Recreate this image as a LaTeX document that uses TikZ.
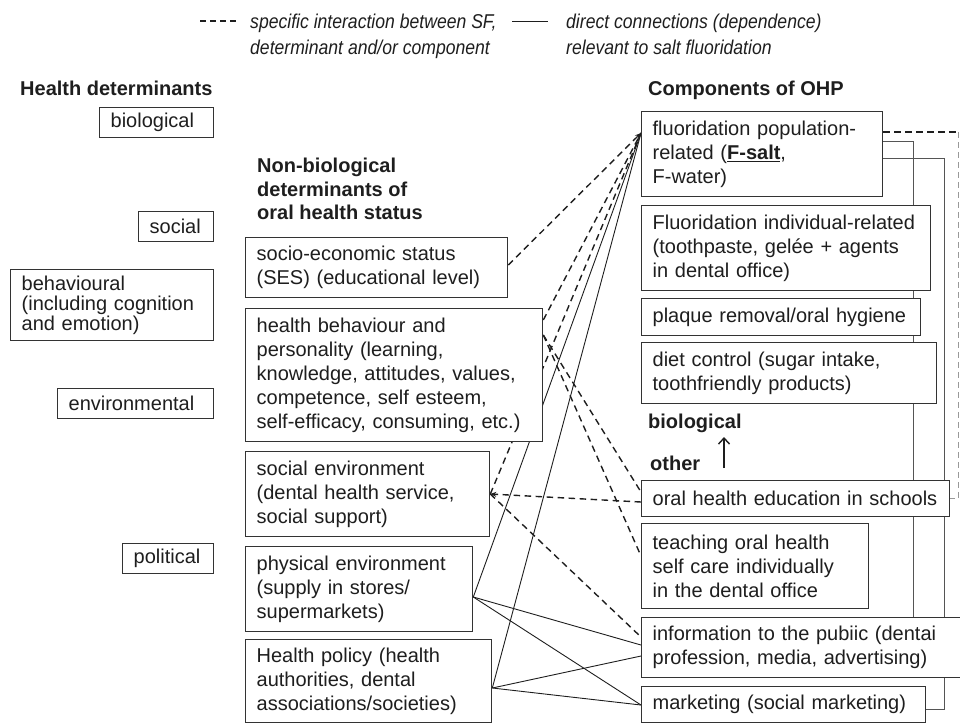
\documentclass[tikz,border=0pt]{standalone}
\usepackage{fontspec}
\setmainfont{Liberation Sans}
\newfontfamily\legendfont{Liberation Sans Italic}[FakeStretch=0.88]
\usetikzlibrary{arrows.meta}
\pgfdeclarelayer{background}
\pgfsetlayers{background,main}
\definecolor{ink}{HTML}{1E1E1E}
\definecolor{edge}{HTML}{333333}
\definecolor{rline}{HTML}{555555}
\definecolor{rdash}{HTML}{999999}
\begin{document}
\begin{tikzpicture}[x=1pt,y=-1pt,
  every node/.style={font=\fontsize{20}{24}\selectfont, text=ink},
  box/.style={draw=edge, line width=1.3pt, fill=white, inner xsep=11pt, inner ysep=2pt, align=left, anchor=north west},
  head/.style={font=\fontsize{20}{24}\selectfont\bfseries, anchor=base west, inner sep=0pt},
  legtext/.style={font=\fontsize{20}{24}\selectfont\legendfont, anchor=base west, inner sep=0pt},
  dashline/.style={dash pattern=on 6.5pt off 4.5pt, line width=1.4pt, draw=ink},
  graydash/.style={dash pattern=on 6pt off 4pt, line width=0.9pt, draw=rdash},
  solidline/.style={line width=0.9pt, draw=ink},
  rightline/.style={line width=0.9pt, draw=rline},
  tip/.style={-{Stealth[length=6pt,width=5pt]}}
]
\useasboundingbox (0,0) rectangle (960,724);

% legend
\coordinate (ld1) at (200,21);
\coordinate (ld2) at (236,21);
\coordinate (ls1) at (512,21);
\coordinate (ls2) at (548,21);
\draw[dash pattern=on 6pt off 4pt, line width=1.4pt, draw=ink] (ld1) -- (ld2);
\draw[solidline] (ls1) -- (ls2);
\node[legtext] (lega) at (250,28) {specific interaction between SF,};
\node[legtext] (legb) at (250,54) {determinant and/or component};
\node[legtext] (legc) at (566,28) {direct connections (dependence)};
\node[legtext] (legd) at (566,54) {relevant to salt fluoridation};

% headings
\node[head] (hd) at (20,95) {Health determinants};
\node[head] (hc) at (648,95) {Components of OHP};
\node[head] (nb1) at (257,172) {Non-biological};
\node[head] (nb2) at (257,196) {determinants of};
\node[head] (nb3) at (257,219) {oral health status};
\node[head] (bio2) at (648,428) {biological};
\node[head] (oth) at (650,470) {other};

% left column
\node[box, text width=92pt, minimum height=30pt] (bio) at (99,107) {biological};
\node[box, text width=53pt, minimum height=30pt] (soc) at (138,211) {social};
\node[box, text width=181pt, minimum height=71pt, font=\fontsize{20}{20}\selectfont] (beh) at (10,269) {behavioural\\(including cognition\\and emotion)};
\node[box, text width=134pt, minimum height=30pt] (env) at (57,388) {environmental};
\node[box, text width=69pt, minimum height=30pt] (pol) at (122,543) {political};

% middle column
\node[box, text width=240pt, minimum height=60pt] (ses) at (245,237) {socio-economic status\\(SES) (educational level)};
\node[box, text width=275pt, minimum height=133pt] (hb) at (245,308) {health behaviour and\\personality (learning,\\knowledge, attitudes, values,\\competence, self esteem,\\self-efficacy, consuming, etc.)};
\node[box, text width=222pt, minimum height=85pt] (se) at (245,451) {social environment\\(dental health service,\\social support)};
\node[box, text width=205pt, minimum height=85pt] (pe) at (245,546) {physical environment\\(supply in stores/\\supermarkets)};
\node[box, text width=224pt, minimum height=83pt] (hp) at (245,639) {Health policy (health\\authorities, dental\\associations/societies)};

% right column
\node[box, text width=219pt, minimum height=85pt] (fs) at (641,111) {fluoridation population-\\related (\underline{\textbf{F-salt}},\\F-water)};
\node[box, text width=267pt, minimum height=85pt] (fi) at (641,205) {Fluoridation individual-related\\(toothpaste, gelée + agents\\in dental office)};
\node[box, text width=257pt, minimum height=37pt] (pl) at (641,298) {plaque removal/oral hygiene};
\node[box, text width=273pt, minimum height=61pt] (dc) at (641,342) {diet control (sugar intake,\\toothfriendly products)};
\node[box, text width=286pt, minimum height=36pt] (oh) at (641,480) {oral health education in schools};
\node[box, text width=205pt, minimum height=85pt] (te) at (641,523) {teaching oral health\\self care individually\\in the dental office};
\node[box, text width=305pt, minimum height=60pt] (inf) at (641,617) {information to the pubiic (dentai\\profession, media, advertising)};
\node[box, text width=262pt, minimum height=36pt] (mk) at (641,686) {marketing (social marketing)};

% arrow other -> biological
\coordinate (ab) at (724,468);
\coordinate (at) at (724,437);
\draw[line width=1.4pt, draw=ink, -{Straight Barb[length=6pt,width=11pt]}] (ab) -- (at);

\begin{pgfonlayer}{background}
% into F-salt
\draw[dashline, tip] ([yshift=-28pt]ses.north east) -- ([yshift=-22pt]fs.north west);
\draw[dashline] ([yshift=-12pt]hb.north east) -- ([yshift=-22pt]fs.north west);
\draw[dashline] ([yshift=-43pt]se.north east) -- ([yshift=-22pt]fs.north west);
\draw[solidline] ([yshift=-51pt]pe.north east) -- ([yshift=-22pt]fs.north west);
\draw[solidline] ([yshift=-49pt]hp.north east) -- ([yshift=-22pt]fs.north west);
% health behaviour downwards
\draw[dashline] ([yshift=-27pt]hb.north east) -- ([yshift=-12pt]oh.north west);
\draw[dashline] ([yshift=-27pt]hb.north east) -- ([yshift=-33pt]te.north west);
% social environment
\draw[dashline, tip] ([yshift=-22pt]oh.north west) -- ([yshift=-43pt]se.north east);
\draw[dashline] ([yshift=-43pt]se.north east) -- ([yshift=-20pt]inf.north west);
% physical environment and health policy
\draw[solidline] ([yshift=-51pt]pe.north east) -- ([yshift=-28pt]inf.north west);
\draw[solidline] ([yshift=-51pt]pe.north east) -- ([yshift=-19pt]mk.north west);
\draw[solidline] ([yshift=-49pt]hp.north east) -- ([yshift=-39pt]inf.north west);
\draw[solidline] ([yshift=-49pt]hp.north east) -- ([yshift=-19pt]mk.north west);
% right side connections
\coordinate (dcorner) at (958,132);
\draw[dashline] ([yshift=-21pt]fs.north east) -- (dcorner);
\draw[graydash] (dcorner) |- (oh.east);
\draw[rightline] ([yshift=-30pt]fs.north east) -| ([xshift=272pt]inf.north west);
\draw[rightline] ([yshift=-47pt]fs.north east) -- ++(61,0) |- ([yshift=-23pt]mk.north east);
\end{pgfonlayer}
\end{tikzpicture}
\end{document}
